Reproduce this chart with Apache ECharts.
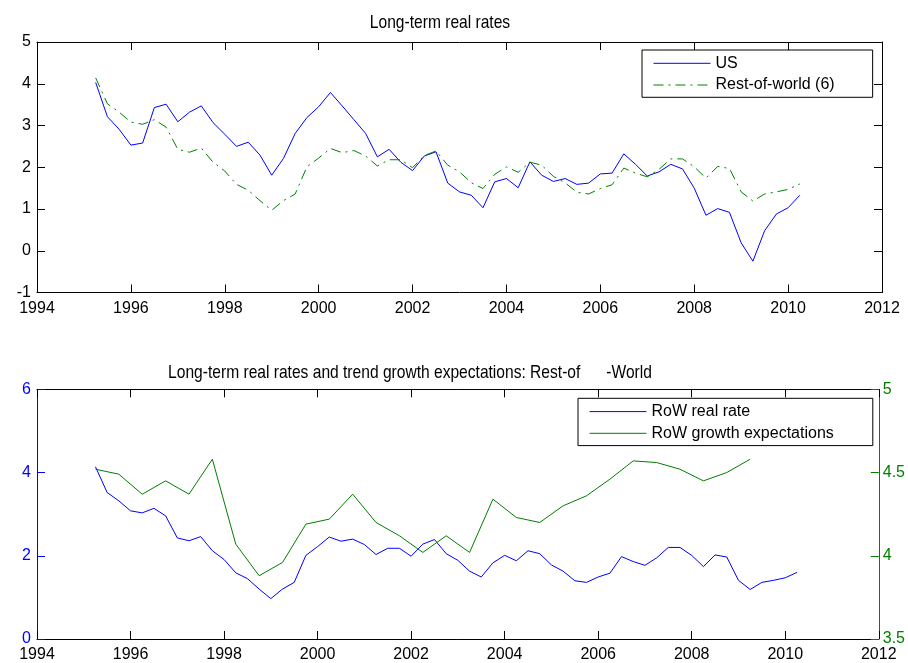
<!DOCTYPE html>
<html>
<head>
<meta charset="utf-8">
<script src="https://cdn.jsdelivr.net/npm/echarts@6/dist/echarts.min.js"></script>
<style>
  html, body { margin: 0; padding: 0; background: #ffffff; }
  #chart { width: 908px; height: 663px; }
</style>
</head>
<body>
<div id="chart"></div>
<script>
// Quarterly observations starting 1995Q2
const firstQuarter = 1995.25;
const quarterCount = 61;

// Long-term real rates, percent
const usRealRate = [
  4.03, 3.21, 2.91, 2.53, 2.58, 3.43, 3.51, 3.09, 3.32, 3.47,
  3.07, 2.79, 2.50, 2.60, 2.29, 1.81, 2.21, 2.81, 3.19, 3.45,
  3.79, 3.47, 3.14, 2.81, 2.25, 2.43, 2.12, 1.92, 2.27, 2.37,
  1.62, 1.41, 1.33, 1.03, 1.65, 1.73, 1.51, 2.13, 1.81, 1.66,
  1.73, 1.59, 1.62, 1.84, 1.86, 2.32, 2.07, 1.79, 1.89, 2.07,
  1.96, 1.50, 0.85, 1.01, 0.92, 0.19, -0.25, 0.48, 0.88, 1.03,
  1.33
];
const rowRealRate = [
  4.14, 3.52, 3.32, 3.08, 3.03, 3.14, 2.96, 2.43, 2.36, 2.46,
  2.12, 1.91, 1.59, 1.45, 1.20, 0.97, 1.20, 1.36, 2.01, 2.22,
  2.45, 2.35, 2.40, 2.27, 2.03, 2.18, 2.18, 1.99, 2.28, 2.39,
  2.05, 1.89, 1.63, 1.49, 1.83, 2.01, 1.88, 2.12, 2.05, 1.78,
  1.63, 1.40, 1.36, 1.49, 1.58, 1.98, 1.86, 1.77, 1.95, 2.20,
  2.20, 2.01, 1.74, 2.02, 1.97, 1.41, 1.19, 1.36, 1.41, 1.47,
  1.60
];
// Trend growth expectations, semi-annual (1995Q2, 1995Q4, ... 2009Q2)
const rowGrowthExpectations = [
  4.52, 4.49, 4.37, 4.45, 4.37, 4.58, 4.07, 3.88, 3.96, 4.19,
  4.22, 4.37, 4.20, 4.12, 4.02, 4.12, 4.02, 4.34, 4.23, 4.20,
  4.30, 4.36, 4.46, 4.57, 4.56, 4.52, 4.45, 4.50, 4.58
];

const topTitle = 'Long-term real rates';
const bottomTitle = 'Long-term real rates and trend growth expectations: Rest-of      -World';
const topSeriesNames = ['US', 'Rest-of-world (6)'];
const bottomSeriesNames = ['RoW real rate', 'RoW growth expectations'];

const quarterDates = [];
for (let i = 0; i < quarterCount; i++) quarterDates.push(firstQuarter + i * 0.25);
const growthDates = quarterDates.filter((d, i) => i % 2 === 0).slice(0, rowGrowthExpectations.length);

const pairs = (xs, ys) => ys.map((v, i) => [xs[i], v]);

const FONT = "Arial, 'Liberation Sans', sans-serif";
const BLUE = '#0000ff';
const GREEN = '#008000';
const plainNumber = v => String(v);

function xAxisDef(gridIndex, position, withLabels) {
  return {
    type: 'value', gridIndex, position, min: 1994, max: 2012, interval: 2,
    axisLine: { show: true, onZero: false, lineStyle: { color: '#000', width: 1 } },
    axisTick: { show: true, inside: true, length: 8, lineStyle: { color: '#000' } },
    axisLabel: { show: withLabels, color: '#000', fontFamily: FONT, fontSize: 16, margin: 8,
                 formatter: plainNumber },
    splitLine: { show: false }
  };
}
function yAxisDef(gridIndex, position, min, max, interval, color, withLabels, margin) {
  return {
    type: 'value', gridIndex, position, min, max, interval,
    axisLine: { show: true, onZero: false, lineStyle: { color, width: 1 } },
    axisTick: { show: true, inside: true, length: 8, lineStyle: { color } },
    axisLabel: { show: withLabels, color, fontFamily: FONT, fontSize: 16, margin,
                 formatter: plainNumber },
    splitLine: { show: false }
  };
}
function legendDef(names, left, top, padding) {
  return {
    data: names, orient: 'vertical', left, top, padding,
    itemWidth: 57, itemHeight: 14, itemGap: 5.7,
    backgroundColor: '#fff', borderColor: '#000', borderWidth: 1, borderRadius: 0,
    itemStyle: { opacity: 0 },
    lineStyle: { width: 1 },
    textStyle: { color: '#000', fontFamily: FONT, fontSize: 16 },
    selectedMode: false
  };
}
// Panel titles: a condensed rendering of the sans face
function titleText(text, x, y) {
  return {
    type: 'text', x, y, scaleX: 0.82, silent: true,
    style: { text, x: 0, y: 0, align: 'center', verticalAlign: 'middle',
             fontFamily: FONT, fontSize: 19, fill: '#000' }
  };
}

const chart = echarts.init(document.getElementById('chart'), null, { renderer: 'canvas' });
chart.setOption({
  animation: false,
  backgroundColor: '#ffffff',
  graphic: [
    titleText(topTitle, 440, 23),
    titleText(bottomTitle, 410, 372.5)
  ],
  grid: [
    { left: 37, top: 42, width: 845, height: 250.5 },
    { left: 37, top: 389.3, width: 845, height: 251.4 }
  ],
  xAxis: [
    xAxisDef(0, 'bottom', true),
    xAxisDef(0, 'top', false),
    xAxisDef(1, 'bottom', true),
    xAxisDef(1, 'top', false)
  ],
  yAxis: [
    yAxisDef(0, 'left', -1, 5, 1, '#000', true, 6),
    yAxisDef(0, 'right', -1, 5, 1, '#000', false, 4),
    yAxisDef(1, 'left', 0, 6, 2, BLUE, true, 6),
    yAxisDef(1, 'right', 3.5, 5, 0.5, GREEN, true, 4)
  ],
  legend: [
    legendDef(topSeriesNames, 642, 50, [5.3, 38, 4.3, 11]),
    legendDef(bottomSeriesNames, 578, 398.3, [5.3, 39, 4.3, 11])
  ],
  series: [
    { name: topSeriesNames[0], type: 'line', xAxisIndex: 0, yAxisIndex: 0,
      data: pairs(quarterDates, usRealRate), symbol: 'none', color: BLUE,
      lineStyle: { color: BLUE, width: 1 } },
    { name: topSeriesNames[1], type: 'line', xAxisIndex: 0, yAxisIndex: 0,
      data: pairs(quarterDates, rowRealRate), symbol: 'none', color: GREEN,
      lineStyle: { color: GREEN, width: 1, type: [10, 5, 2, 5] } },
    { name: bottomSeriesNames[0], type: 'line', xAxisIndex: 2, yAxisIndex: 2,
      data: pairs(quarterDates, rowRealRate), symbol: 'none', color: BLUE,
      lineStyle: { color: BLUE, width: 1 } },
    { name: bottomSeriesNames[1], type: 'line', xAxisIndex: 2, yAxisIndex: 3,
      data: pairs(growthDates, rowGrowthExpectations), symbol: 'none', color: GREEN,
      lineStyle: { color: GREEN, width: 1 } }
  ]
});
</script>
</body>
</html>
